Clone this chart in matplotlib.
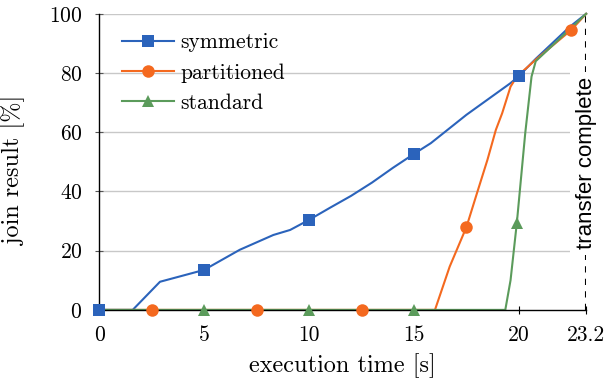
"""Join result progress over execution time for three join strategies."""

import matplotlib
matplotlib.use("Agg")
import matplotlib.pyplot as plt
from matplotlib.lines import Line2D

plt.rcParams["font.family"] = ["cmr10"]
plt.rcParams["axes.formatter.use_mathtext"] = True

# symmetric join
sym_x = [0, 1.6, 2.9, 5, 6.7, 8.3, 9.1, 10, 11, 12, 13, 14, 15, 15.8, 17.5, 19.6, 20, 20.8, 22.4, 23.2]
sym_y = [0, 0, 9.5, 13.5, 20.3, 25.3, 27, 30.4, 34.5, 38.5, 43, 48, 52.7, 56.3, 65.9, 76.6, 79, 84.8, 95.5, 100]
sym_mark_x = [0, 5, 10, 15, 20]

# partitioned join
part_x = [0, 2.5, 7.5, 12.5, 16.0, 16.7, 17.5, 18.0, 18.5, 18.9, 19.2, 19.6, 19.9, 20.8, 22.5, 23.2]
part_y = [0, 0, 0, 0, 0, 14.6, 28, 39.4, 50.7, 60.8, 66.4, 75.4, 78.8, 84.5, 94.6, 100]
part_mark_x = [2.5, 7.5, 12.5, 17.5, 22.5]

# standard join
std_x = [0, 5, 10, 15, 19.35, 19.6, 19.9, 20.3, 20.6, 20.8, 23.2]
std_y = [0, 0, 0, 0, 0, 10, 29.4, 59.7, 78.8, 84, 100]
std_mark_x = [5, 10, 15, 19.9]

x_ticks = [0, 5, 10, 15, 20, 23.2]
x_tick_labels = ["0", "5", "10", "15", "20", "23.2"]
y_ticks = [0, 20, 40, 60, 80, 100]
transfer_end = 23.2

series = [
    ("symmetric", sym_x, sym_y, sym_mark_x, "#2b63bb", "s", 8.5),
    ("partitioned", part_x, part_y, part_mark_x, "#f4691f", "o", 9),
    ("standard", std_x, std_y, std_mark_x, "#5b9b5b", "^", 8.5),
]

fig = plt.figure(figsize=(6.08, 3.84), dpi=100)
ax = fig.add_axes([0.163, 0.193, 0.801, 0.771])

for y in y_ticks[1:]:
    ax.axhline(y, color="#c8c8c8", lw=1.0, zorder=0)

handles = []
for label, xs, ys, mxs, color, marker, ms in series:
    ax.plot(xs, ys, color=color, lw=1.5, zorder=2, clip_on=False)
    idx = [xs.index(m) for m in mxs]
    mx = [xs[i] for i in idx]
    my = [ys[i] for i in idx]
    ax.plot(mx, my, linestyle="none", marker=marker, ms=ms, color=color,
            markeredgewidth=0, zorder=4, clip_on=False)
    handles.append(Line2D([], [], color=color, lw=1.5, marker=marker, ms=ms,
                          markeredgewidth=0, label=label))

ax.axvline(transfer_end, color="black", lw=1.5, ls=(0, (3, 3)), zorder=3)
ax.text(transfer_end, 49.5, "transfer complete", rotation=90, ha="center", va="center",
        fontsize=16, family="Liberation Sans", zorder=5,
        bbox=dict(facecolor="white", edgecolor="none", pad=4))

ax.set_xlim(0, 23.2)
ax.set_ylim(0, 100)
ax.set_xticks(x_ticks)
ax.set_xticklabels(x_tick_labels)
ax.set_yticks(y_ticks)
ax.tick_params(axis="both", direction="inout", length=6, width=0.8, labelsize=15.5)
ax.tick_params(axis="x", pad=8)
ax.tick_params(axis="y", pad=9, colors="#555555", labelcolor="black")

for side in ("top", "right"):
    ax.spines[side].set_visible(False)
ax.spines["left"].set_linewidth(1.0)
ax.spines["bottom"].set_linewidth(1.0)

ax.set_xlabel("execution time [s]", fontsize=17.5)
ax.set_ylabel("join result [%]", fontsize=17.5)
ax.xaxis.set_label_coords(0.5, -0.145)
ax.yaxis.set_label_coords(-0.15, 0.47)

ax.legend(handles=handles, loc="upper left", bbox_to_anchor=(0.03, 0.965), frameon=False,
          fontsize=15.5, handlelength=2.4, handletextpad=0.3, labelspacing=0.5,
          borderaxespad=0)

fig.savefig("out.png", dpi=100)
